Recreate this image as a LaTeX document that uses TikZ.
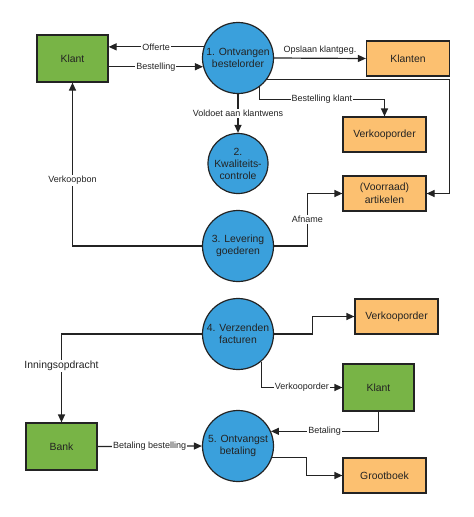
\documentclass[tikz,border=0pt]{standalone}
\usepackage{fontspec}
\setmainfont{Liberation Sans}
\definecolor{LeafGreen}{RGB}{120, 180, 70}
\definecolor{SkyBlue}{RGB}{58, 160, 220}
\definecolor{Apricot}{RGB}{252, 192, 112}
\definecolor{Ink}{RGB}{35, 35, 35}
\usetikzlibrary{arrows.meta, positioning, calc}

\begin{document}
\begin{tikzpicture}[x=1pt, y=-1pt]
        \tikzstyle{entity} = [rectangle, minimum width=71pt, minimum height=47pt, draw=Ink, line width=1.2pt, fill=LeafGreen, font=\fontsize{10.4}{12.5}\selectfont, text=Ink]
        \tikzstyle{store} = [rectangle, minimum width=83pt, minimum height=35pt, draw=Ink, line width=1.2pt, fill=Apricot, font=\fontsize{10.4}{12.5}\selectfont, text=Ink, align=center]
        \tikzstyle{process} = [circle, minimum size=71pt, inner sep=0pt, draw=Ink, line width=1.2pt, fill=SkyBlue, font=\fontsize{10.4}{12}\selectfont, text=Ink, align=center]
        \tikzstyle{arrow} = [->, >={Triangle[length=8pt, width=7pt]}, line width=1.2pt, Ink]
        \tikzstyle{flow} = [fill=white, inner sep=1pt, font=\fontsize{9}{10.5}\selectfont, text=Ink]

        \useasboundingbox (0,0) rectangle (474,517);

        % Nodes
        \node (klantA) [entity] at (72.5,58.5) {Klant};
        \node (ontvangen) [process] at (238,58) {1. Ontvangen\\bestelorder};
        \node (klanten) [store] at (408,58.5) {Klanten};
        \node (verkoopA) [store] at (384.5,134.5) {Verkooporder};
        \node (kwaliteit) [process, minimum size=60pt] at (238,163.5) {2.\\Kwaliteits-\\controle};
        \node (artikelen) [store] at (384.5,193.5) {(Voorraad)\\artikelen};
        \node (levering) [process] at (238,246) {3. Levering\\goederen};
        \node (facturen) [process] at (238,334) {4. Verzenden\\facturen};
        \node (verkoopB) [store] at (396.5,316.5) {Verkooporder};
        \node (klantB) [entity] at (378.5,387.5) {Klant};
        \node (bank) [entity] at (61.5,446.5) {Bank};
        \node (betaling) [process] at (238,446) {5. Ontvangst\\betaling};
        \node (grootboek) [store] at (384.5,475.5) {Grootboek};

        % Arrows
        \draw [arrow] (ontvangen.162.2) -- node[flow] {Offerte} (klantA.east |- ontvangen.162.2);
        \draw [arrow] (klantA.east |- ontvangen.194.5) -- node[flow] {Bestelling} (ontvangen.194.5);
        \draw [arrow] (ontvangen.east) -- node[flow, above, yshift=2pt] {Opslaan klantgeg.} (klanten.west);
        \draw [arrow] (ontvangen.-37.7) -| ($(artikelen.east)+(23,0)$) -- (artikelen.east);
        \draw [arrow] (ontvangen.-54.2) |- node[flow, pos=0.75] {Bestelling klant} ($(verkoopA.north)+(0,-17)$) -- (verkoopA.north);
        \draw [arrow] (ontvangen.south) -- node[flow] {Voldoet aan klantwens} (kwaliteit.north);
        \draw [arrow] (levering.west) -| node[flow, pos=0.7] {Verkoopbon} (klantA.south);
        \draw [arrow] (levering.east) -| node[flow, pos=0.75] {Afname} ($(artikelen.west)+(-35,0)$) -- (artikelen.west);
        \draw [arrow] (facturen.west) -| node[flow, pos=0.68, font=\fontsize{10.4}{12}\selectfont] {Inningsopdracht} (bank.north);
        \draw [arrow] (facturen.east) -| ($(verkoopB.west)+(-42,0)$) -- (verkoopB.west);
        \draw [arrow] (facturen.-50.3) |- node[flow, pos=0.75] {Verkooporder} (klantB.west);
        \draw [arrow] (klantB.south) |- node[flow, pos=0.75] {Betaling} (betaling.24.6);
        \draw [arrow] (bank.east) -- node[flow] {Betaling bestelling} (betaling.west);
        \draw [arrow] (betaling.-19.5) -| ($(grootboek.west)+(-36,0)$) -- (grootboek.west);
\end{tikzpicture}
\end{document}
